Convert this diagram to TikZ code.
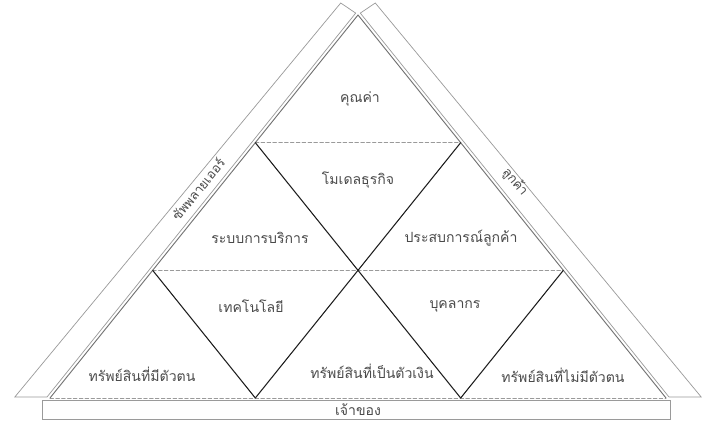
\documentclass[tikz,border=0pt]{standalone}
\usepackage{fontspec}
\newfontfamily\thaifont[Script=Thai]{Loma}
\usetikzlibrary{calc}
\definecolor{inkline}{HTML}{1C1C1C}
\definecolor{inkgray}{HTML}{9A9A9A}
\definecolor{inktext}{HTML}{4A4A4A}
\tikzset{cell/.style={font=\thaifont\fontsize{12}{14}\selectfont,text=inktext,inner sep=1pt},band/.style={draw=inkgray,fill=white,line width=.6pt},divider/.style={inkline,line width=.9pt},level/.style={inkgray,line width=.8pt,densely dashed},rim/.style={black!55,line width=.8pt},every picture/.style={line cap=round}}
\begin{document}
\begin{tikzpicture}[x=0.03cm,y=-0.03cm]
\useasboundingbox (0,0) rectangle (702,421);
% side bands and base band
\draw[band] (14.8,397)--(47,397)--(355.7,13.1)--(340.7,3)--cycle;
\draw[band] (701.2,397)--(669,397)--(360.3,13.1)--(375.3,3)--cycle;
\draw[band] (42,400) rectangle (670,419);
\node[cell,rotate=51,font=\thaifont\fontsize{11}{13}\selectfont] (supplier) at (198,189) {ซัพพลายเออร์};
\node[cell,rotate=-51,font=\thaifont\fontsize{11}{13}\selectfont] (customer) at (515,182) {ลูกค้า};
\node[cell] (owner) at (358,410) {เจ้าของ};
% triangle grid
\coordinate (A) at (358,15); \coordinate (B) at (50,398); \coordinate (C) at (666,398);
\coordinate (l1) at ($(A)!1/3!(B)$); \coordinate (l2) at ($(A)!2/3!(B)$);
\coordinate (r1) at ($(A)!1/3!(C)$); \coordinate (r2) at ($(A)!2/3!(C)$);
\coordinate (b1) at ($(B)!1/3!(C)$); \coordinate (b2) at ($(B)!2/3!(C)$);
\draw[level] (l1)--(r1);
\draw[level] (l2)--(r2);
\draw[level] (B)--(C);
\draw[rim] (B)--(A)--(C);
\draw[divider] (l1)--(b2);
\draw[divider] (r1)--(b1);
\draw[divider] (l2)--(b1);
\draw[divider] (r2)--(b2);
% cell labels
\node[cell] (value) at (360,99) {คุณค่า};
\node[cell] (model) at (358,180) {โมเดลธุรกิจ};
\node[cell] (service) at (260,238) {ระบบการบริการ};
\node[cell] (experience) at (461,238) {ประสบการณ์ลูกค้า};
\node[cell] (tech) at (251,306) {เทคโนโลยี};
\node[cell] (staff) at (455,306) {บุคลากร};
\node[cell] (tangible) at (142,374) {ทรัพย์สินที่มีตัวตน};
\node[cell] (financial) at (372,371) {ทรัพย์สินที่เป็นตัวเงิน};
\node[cell] (intangible) at (563,375) {ทรัพย์สินที่ไม่มีตัวตน};
\end{tikzpicture}
\end{document}
